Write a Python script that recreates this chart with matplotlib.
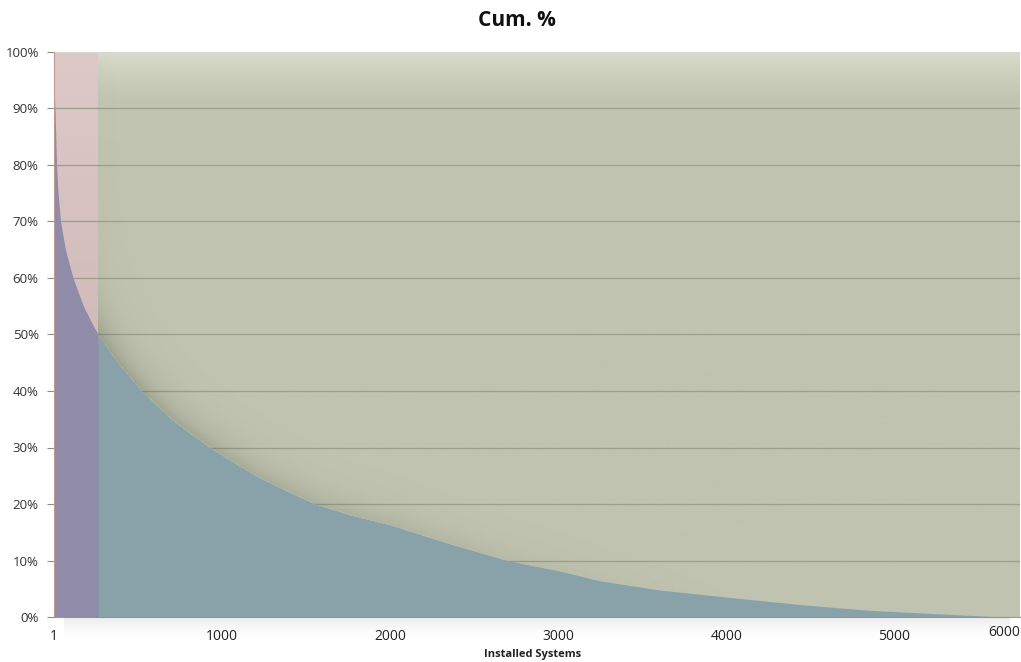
import numpy as np
import matplotlib
matplotlib.use("Agg")
import matplotlib.pyplot as plt
from matplotlib.colors import LinearSegmentedColormap
from matplotlib.patches import Rectangle

plt.rcParams['font.family'] = ['Open Sans', 'DejaVu Sans']

# Cumulative share (%) against number of installed systems
installed = [1, 3, 7, 16, 25, 40, 69, 114, 176, 220, 263, 320, 380,
             450, 523, 610, 700, 810, 929, 1060, 1200, 1370, 1554, 1770, 2000,
             2350, 2696, 3000, 3250, 3600, 4040, 4440, 4840, 5240, 5640]
cum_pct = [94, 92, 90, 80, 75, 70, 65, 60, 55, 52.4, 50, 47.5, 45,
           42.5, 40, 37.5, 35, 32.5, 30, 27.5, 25, 22.5, 20, 18, 16.3,
           13, 10, 8.2, 6.4, 4.8, 3.4, 2.2, 1.2, 0.6, 0]

# Boundary between the highlighted head and the long tail
split_at = 263
x_max = 5747

x_ticks = [1, 1000, 2000, 3000, 4000, 5000]
x_tick_labels = ["1", "1000", "2000", "3000", "4000", "5000"]
last_label = "6000"
y_ticks = [0, 10, 20, 30, 40, 50, 60, 70, 80, 90, 100]

fig = plt.figure(figsize=(10.21, 6.62), dpi=100)
fig.patch.set_facecolor("white")

ax_l, ax_b, ax_w, ax_h = 54 / 1021, 1 - 617 / 662, 966 / 1021, 565 / 662
W_PX, H_PX = 966, 565

# Soft shadow under the plot area
for i in range(14):
    fig.patches.append(Rectangle((ax_l + 0.01, ax_b - (i + 1) * 0.0022), ax_w - 0.02,
                                 0.0022, transform=fig.transFigure,
                                 color=(0.35, 0.35, 0.35), alpha=0.11 * (1 - i / 14) ** 1.5,
                                 lw=0, zorder=0))

ax = fig.add_axes([ax_l, ax_b, ax_w, ax_h])

# Background bands with a vertical gradient
red_cmap = LinearSegmentedColormap.from_list("r", ["#c8aeac", "#dcc9c8"])
green_cmap = LinearSegmentedColormap.from_list("g", ["#bfc3b0", "#c1c5b2", "#dadcca"])
grad = np.linspace(0, 1, 256).reshape(-1, 1)
ax.imshow(grad, cmap=red_cmap, origin="lower", aspect="auto",
          extent=[1, split_at, 0, 100], zorder=0)
ax.imshow(grad ** 8, cmap=green_cmap, origin="lower", aspect="auto",
          extent=[split_at, x_max, 0, 100], zorder=0)

# Gridlines
for v in y_ticks[1:-1]:
    ax.axhline(v, color="#9a9e8c", lw=0.9, zorder=1)
ax.axhline(100, color="#d6d6d6", lw=1.0, zorder=1)

xs = np.array(installed, dtype=float)
ys = np.array(cum_pct, dtype=float)

# Inner shadow of the tail band: darkens the band just above the curve,
# strongest near the knee and fading out towards the right.
sx = W_PX / (x_max - 1)
sy = H_PX / 100.0
px = (xs - 1) * sx
py = ys * sy
gx, gy = np.meshgrid(np.arange(W_PX) + 0.5, np.arange(H_PX) + 0.5)
dist = np.full(gx.shape, np.inf)
for i in range(len(px) - 1):
    ax0, ay0, bx, by = px[i], py[i], px[i + 1], py[i + 1]
    dx, dy = bx - ax0, by - ay0
    t = np.clip(((gx - ax0) * dx + (gy - ay0) * dy) / (dx * dx + dy * dy), 0, 1)
    d = np.hypot(gx - (ax0 + t * dx), gy - (ay0 + t * dy))
    dist = np.minimum(dist, d)
split_px = (split_at - 1) * sx
curve_at = np.interp(gx, px, py)
fade = np.clip(1 - (gx - split_px) / 650.0, 0, 1) ** 1.3
shade = 0.30 * np.exp(-dist / 14.0) * fade
shade[(gy < curve_at) | (gx < split_px)] = 0
rgba = np.zeros((H_PX, W_PX, 4))
rgba[..., :3] = np.array([0.29, 0.31, 0.23])
rgba[..., 3] = shade
ax.imshow(rgba, origin="lower", aspect="auto", extent=[1, x_max, 0, 100],
          interpolation="bilinear", zorder=2)

ax.fill_between(xs, 0, ys, where=xs <= split_at, interpolate=True,
                color="#8f8ba8", lw=0, zorder=3)
ax.fill_between(xs, 0, ys, where=xs >= split_at, interpolate=True,
                color="#89a2aa", lw=0, zorder=3)
ax.set_xlim(1, x_max)
ax.set_ylim(0, 100)

ax.set_xticks(x_ticks)
ax.set_xticklabels(x_tick_labels)
ax.set_yticks(y_ticks)
ax.set_yticklabels([f"{v}%" for v in y_ticks])
ax.text(1.0, -0.0275, last_label, transform=ax.transAxes, ha="right", va="center",
        fontsize=10, color="#222222")

ax.tick_params(axis="y", length=5, color="#8c8c8c", labelsize=9.5,
               labelcolor="#333333", pad=6)
ax.tick_params(axis="x", length=0, labelsize=10, labelcolor="#222222", pad=9)

for s in ["top", "right"]:
    ax.spines[s].set_visible(False)
ax.spines["left"].set_color("#c09a90")
ax.spines["bottom"].set_color("#9a9a9a")
ax.spines["left"].set_zorder(5)
ax.spines["bottom"].set_zorder(5)

fig.text(517 / 1021, 1 - 20 / 662, "Cum. %", ha="center", va="center",
         fontsize=15, fontweight="bold", color="#111111")
fig.text(533 / 1021, 1 - 655 / 662, "Installed Systems", ha="center", va="center",
         fontsize=8, fontweight="bold", color="#222222")

fig.savefig("out.png", dpi=100, facecolor="white")
